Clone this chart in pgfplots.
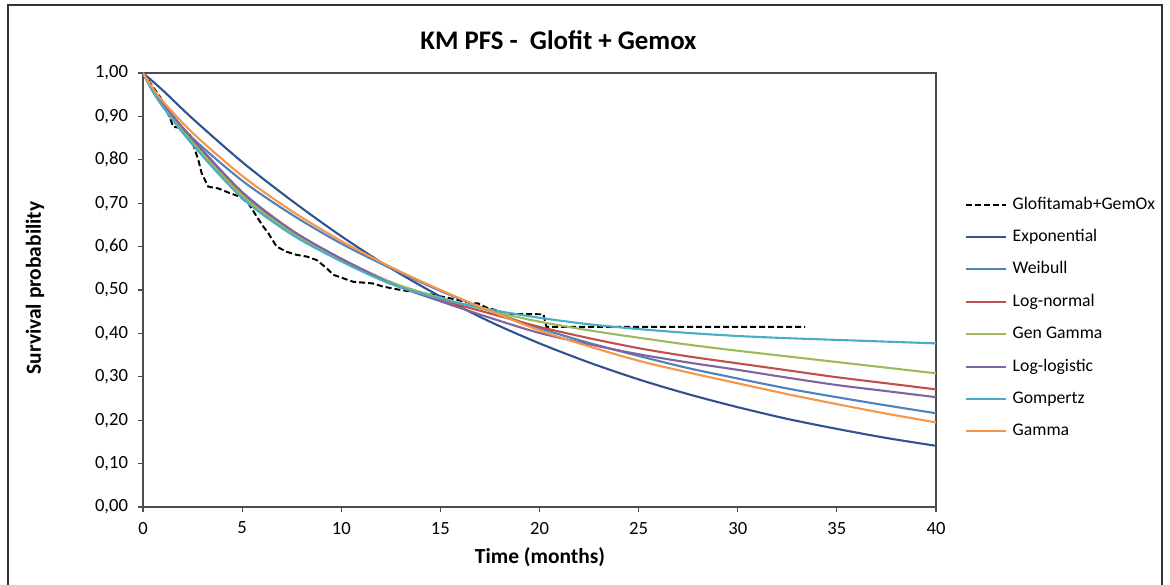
\documentclass[border=0pt]{standalone}
\usepackage{fontspec}
\setmainfont{Carlito}
\usepackage{pgfplots}
\pgfplotsset{compat=1.18}
\definecolor{cExp}{HTML}{2F5391}
\definecolor{cWei}{HTML}{4F81BD}
\definecolor{cLN}{HTML}{C0504D}
\definecolor{cGG}{HTML}{9BBB59}
\definecolor{cLL}{HTML}{8064A2}
\definecolor{cGom}{HTML}{4BACC6}
\definecolor{cGam}{HTML}{F79646}
\begin{document}
\begin{tikzpicture}[x=1pt,y=1pt]
\path[use as bounding box] (0,0) rectangle (780,390);
\clip (0,0) rectangle (780,390);
\draw[black!80, line width=0.9pt] (5.33,-10) rectangle (774.67,386.67);
\node[font=\bfseries\fontsize{17.9}{20}\selectfont] at (372.3,363.3) {KM PFS -\ \ Glofit + Gemox};
\node[font=\bfseries\fontsize{14.3}{16}\selectfont] at (360,18.7) {Time (months)};
\node[font=\bfseries\fontsize{14.3}{16}\selectfont, rotate=90] at (23.3,198) {Survival probability};
\begin{axis}[
  at={(95.33pt,52pt)}, anchor=south west,
  width=528.67pt, height=289.33pt, scale only axis,
  xmin=0, xmax=40, ymin=0, ymax=1,
  xtick={0,5,10,15,20,25,30,35,40},
  ytick={0,0.1,0.2,0.3,0.4,0.5,0.6,0.7,0.8,0.9,1.0},
  tick align=outside, major tick length=3.5pt,
  xtick pos=bottom, ytick pos=left,
  tick style={black!70, line width=0.7pt},
  axis line style={black!70, line width=0.9pt},
  /pgf/number format/assume math mode=true,
  ticklabel style={font=\fontsize{12.4}{14}\selectfont},
  yticklabel style={xshift=-3pt, /pgf/number format/.cd, fixed, fixed zerofill, precision=2, use comma},
  xticklabel style={yshift=-3pt, /pgf/number format/.cd, fixed, precision=0},
  legend cell align=left,
  legend style={at={(1.03,0.4355)}, anchor=west, draw=none, fill=none,
    font=\fontsize{11.8}{14}\selectfont, row sep=8.6pt, column sep=3pt,
    nodes={inner sep=1pt, text height=8.5pt, text depth=2.5pt}},
  legend image code/.code={\draw[#1] (0pt,0pt) -- (26.7pt,0pt);},
  every axis plot/.append style={line width=1.4pt},
]
\addplot[black, dash pattern=on 4pt off 2pt, line width=1.3pt] coordinates {
(0,1) (0.86,0.945) (1.02,0.93) (1.36,0.896) (1.53,0.876) (1.95,0.873) (2.37,0.857)
(2.62,0.823) (2.79,0.800) (2.96,0.769) (3.29,0.738) (3.80,0.734) (4.39,0.723)
(4.89,0.715) (5.31,0.700) (5.74,0.669) (6.07,0.646) (6.32,0.631) (6.74,0.600)
(7.25,0.588) (7.75,0.581) (8.26,0.577) (8.76,0.569) (9.27,0.550) (9.60,0.535)
(10.1,0.527) (10.6,0.519) (11.1,0.517) (11.6,0.515) (12.1,0.508) (13.0,0.500)
(14.5,0.490) (15.8,0.478) (16.5,0.470) (16.9,0.469) (17.3,0.460) (17.9,0.452)
(18.3,0.445) (20.2,0.444) (20.35,0.415) (33.4,0.415)};
\addlegendentry{Glofitamab+GemOx}
\addplot[cExp, smooth] coordinates {
(0,1) (1,0.960) (2.5,0.895) (5,0.795) (7.5,0.706) (10,0.624) (12.5,0.550) (15,0.485)
(17.5,0.427) (20,0.377) (22.5,0.333) (25,0.294) (27.5,0.260) (30,0.230) (32.5,0.203)
(35,0.180) (37.5,0.159) (40,0.141)};
\addlegendentry{Exponential}
\addplot[cWei, smooth] coordinates {
(0,1) (0.5,0.957) (1,0.926) (2.5,0.850) (5,0.752) (7.5,0.674) (10,0.607) (12.5,0.550)
(15,0.498) (17.5,0.452) (20,0.412) (22.5,0.378) (25,0.348) (27.5,0.320) (30,0.296)
(32.5,0.273) (35,0.253) (37.5,0.234) (40,0.216)};
\addlegendentry{Weibull}
\addplot[cLN, smooth] coordinates {
(0,1) (0.5,0.962) (1,0.930) (2.5,0.845) (5,0.722) (7.5,0.636) (10,0.572) (12.5,0.518)
(15,0.478) (17.5,0.446) (20,0.415) (22.5,0.389) (25,0.366) (27.5,0.347) (30,0.331)
(32.5,0.315) (35,0.299) (37.5,0.285) (40,0.271)};
\addlegendentry{Log-normal}
\addplot[cGG, smooth] coordinates {
(0,1) (0.5,0.960) (1,0.926) (2.5,0.840) (5,0.718) (7.5,0.632) (10,0.570) (12.5,0.518)
(15,0.482) (17.5,0.452) (20,0.427) (22.5,0.407) (25,0.390) (27.5,0.374) (30,0.360)
(32.5,0.347) (35,0.334) (37.5,0.321) (40,0.308)};
\addlegendentry{Gen Gamma}
\addplot[cLL, smooth] coordinates {
(0,1) (0.5,0.962) (1,0.930) (2.5,0.848) (5,0.726) (7.5,0.638) (10,0.572) (12.5,0.515)
(15,0.474) (17.5,0.436) (20,0.401) (22.5,0.375) (25,0.352) (27.5,0.333) (30,0.316)
(32.5,0.298) (35,0.281) (37.5,0.267) (40,0.253)};
\addlegendentry{Log-logistic}
\addplot[cGom, smooth] coordinates {
(0,1) (0.5,0.958) (1,0.922) (2.5,0.835) (5,0.712) (7.5,0.628) (10,0.566) (12.5,0.514)
(15,0.480) (17.5,0.455) (20,0.436) (22.5,0.421) (25,0.410) (27.5,0.401) (30,0.394)
(32.5,0.389) (35,0.385) (37.5,0.381) (40,0.377)};
\addlegendentry{Gompertz}
\addplot[cGam, smooth] coordinates {
(0,1) (0.5,0.965) (1,0.935) (2.5,0.862) (5,0.763) (7.5,0.682) (10,0.613) (12.5,0.553)
(15,0.500) (17.5,0.452) (20,0.407) (22.5,0.370) (25,0.337) (27.5,0.310) (30,0.285)
(32.5,0.260) (35,0.237) (37.5,0.215) (40,0.195)};
\addlegendentry{Gamma}
\end{axis}
\end{tikzpicture}
\end{document}
